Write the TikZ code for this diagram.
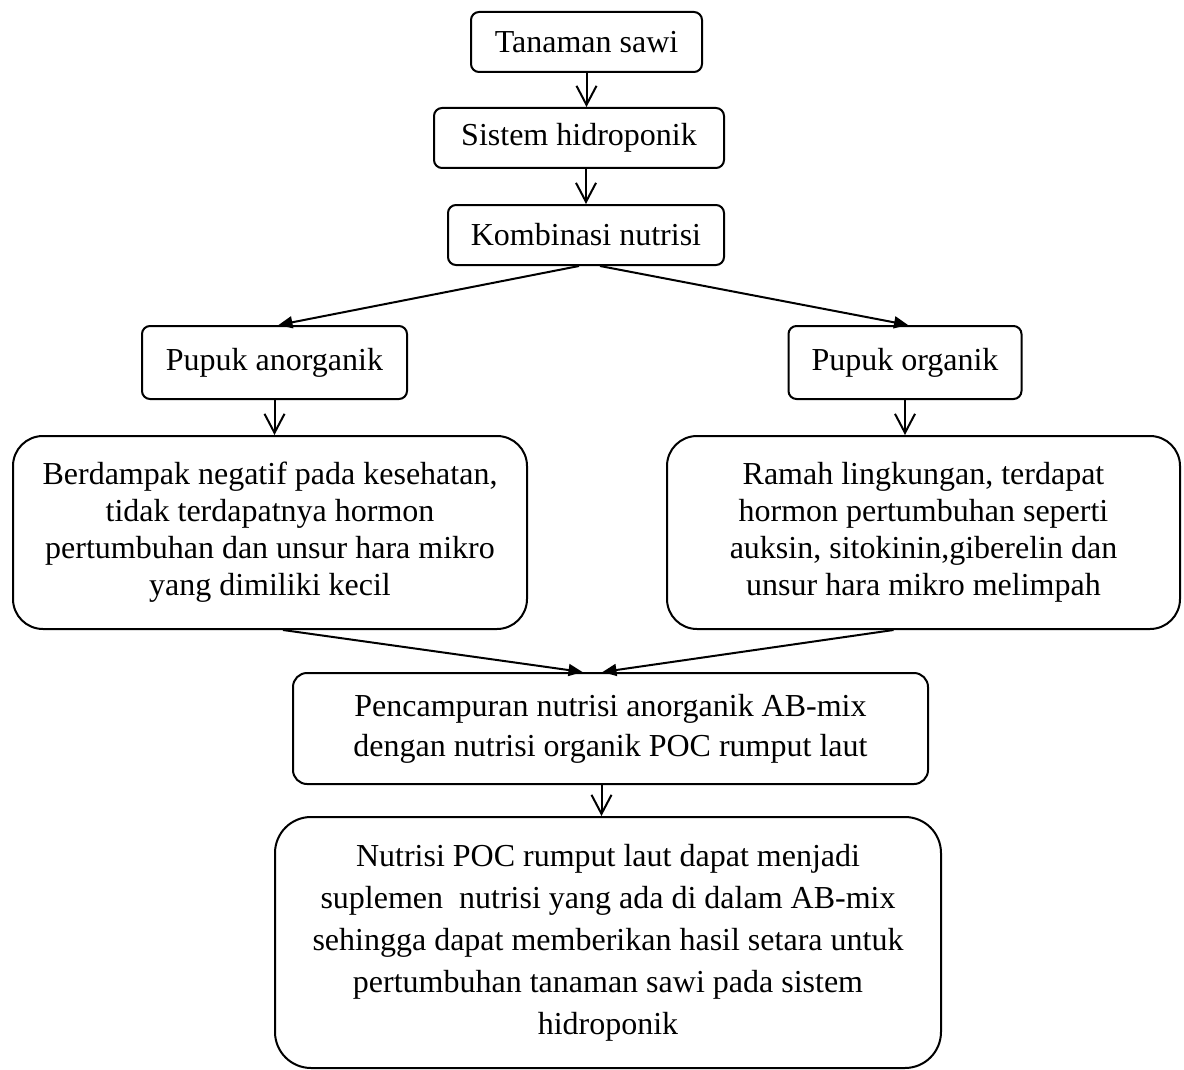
\documentclass[tikz,border=0pt]{standalone}
\usepackage{fontspec}
\setmainfont{Liberation Serif}
\usetikzlibrary{arrows.meta}
\begin{document}
\begin{tikzpicture}[x=0.5pt,y=-0.5pt,line width=1pt,
  >={Straight Barb[length=9.5pt,width=10pt]},
  kotak/.style={draw,rounded corners=4pt,align=center,inner sep=0pt,
    font=\fontsize{16}{18.5}\selectfont},
  miring/.style={-{Triangle[length=7pt,width=6pt]}}]
\useasboundingbox (0,0) rectangle (1184,1070);
\path
(586.5,42)   node[kotak,minimum width=115.5pt,minimum height=30pt] (tan) {Tanaman sawi}
(579,138)    node[kotak,minimum width=145pt,minimum height=30pt] (hid) {Sistem hidroponik}
(586,235)    node[kotak,minimum width=138pt,minimum height=30pt] (komb) {Kombinasi nutrisi}
(274.5,362.5) node[kotak,minimum width=132.5pt,minimum height=36.5pt] (anorg) {Pupuk anorganik}
(905,362.5)  node[kotak,minimum width=116.5pt,minimum height=36.5pt] (org) {Pupuk organik}
(270,532.5)  node[kotak,rounded corners=15pt,minimum width=257pt,minimum height=96.5pt] (neg)
  {Berdampak negatif pada kesehatan,\\ tidak terdapatnya hormon\\
   pertumbuhan dan unsur hara mikro\\ yang dimiliki kecil}
(923.5,532.5) node[kotak,rounded corners=15pt,minimum width=256.5pt,minimum height=96.5pt] (pos)
  {Ramah lingkungan, terdapat\\ hormon pertumbuhan seperti\\
   auksin, sitokinin,giberelin dan\\ unsur hara mikro melimpah}
(610.5,728.5) node[kotak,rounded corners=7pt,minimum width=317.5pt,minimum height=55.5pt,
  font=\fontsize{16}{20}\selectfont] (camp)
  {Pencampuran nutrisi anorganik AB-mix\\ dengan nutrisi organik POC rumput laut}
(608,942.5)  node[kotak,rounded corners=18pt,minimum width=333pt,minimum height=125.5pt,
  font=\fontsize{16}{21}\selectfont] (hasil)
  {Nutrisi POC rumput laut dapat menjadi\\ suplemen\ \ nutrisi yang ada di dalam AB-mix\\
   sehingga dapat memberikan hasil setara untuk\\ pertumbuhan tanaman sawi pada sistem\\ hidroponik};
\draw[->] (tan.south)--(tan.south |- hid.north);
\draw[->] (hid.south -| komb.north)--(komb.north);
\draw[miring] ([xshift=-3.5pt]komb.south)--([xshift=2pt]anorg.north);
\draw[miring] ([xshift=7pt]komb.south)--([xshift=1.5pt]org.north);
\draw[->] (anorg.south)--(anorg.south |- neg.north);
\draw[->] (org.south)--(org.south |- pos.north);
\draw[miring] ([xshift=6.5pt]neg.south)--([xshift=-14pt]camp.north);
\draw[miring] ([xshift=-15pt]pos.south)--([xshift=-4pt]camp.north);
\draw[->] ([xshift=-4.5pt]camp.south)--([xshift=-4.5pt]camp.south |- hasil.north);
\end{tikzpicture}
\end{document}
